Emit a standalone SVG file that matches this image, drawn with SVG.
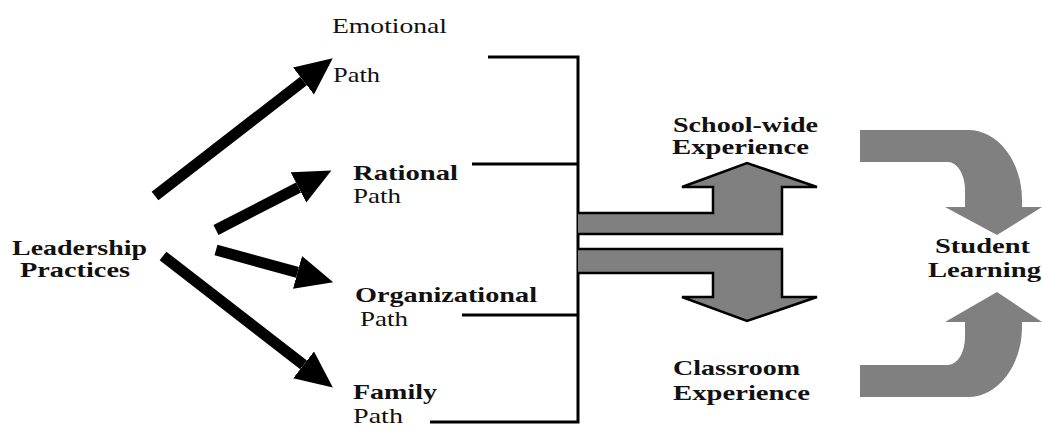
<svg xmlns="http://www.w3.org/2000/svg" width="1042" height="435" viewBox="0 0 1042 435">
<style>
  .t { font-family: "Liberation Serif", "Times New Roman", serif; font-size: 21px; fill: #111; }
  .b { font-weight: bold; }
  .arrow { stroke: #000; stroke-width: 11; fill: none; stroke-linecap: butt; marker-end: url(#head); }
  .line { stroke: #000; stroke-width: 3; fill: none; }
  .gray { fill: #808080; stroke: #000; stroke-width: 2.5; stroke-linejoin: miter; }
  .curve { fill: #808080; stroke: none; }
</style>
<defs>
  <marker id="head" markerUnits="userSpaceOnUse" markerWidth="38" markerHeight="36" refX="0" refY="17" orient="auto">
    <path d="M0,0 L37,17 L0,34 Z" fill="#000"/>
  </marker>
</defs>
<rect width="1042" height="435" fill="#fff"/>

<g id="connectors">
  <line class="arrow" x1="155" y1="196" x2="303.5" y2="81"/>
  <line class="arrow" x1="216" y1="230" x2="298.5" y2="187.5"/>
  <line class="arrow" x1="216" y1="250" x2="297.5" y2="272.4"/>
  <line class="arrow" x1="163" y1="256" x2="303.6" y2="364.9"/>
  <path class="line" d="M488,57 H578 V422 H430"/>
  <path class="line" d="M472,164 H578"/>
  <path class="line" d="M462,315 H578"/>
  <path class="gray" d="M578,213 H713 V187 H682 L747,163 L817,187 H782 V234 H578"/>
  <path class="gray" d="M578,249 H782 V297 H817 L747,321 L682,297 H713 V273 H578"/>
  <path class="curve" d="M860,130 H968 A54,70 0 0 1 1022,200 V207 H1042 L997,235 L945,207 H965 V190 A17,28 0 0 0 948,162 H860 Z"/>
  <path class="curve" d="M860,397 H968 A54,70 0 0 0 1022,327 V322 H1042 L997,292 L945,322 H965 V337 A17,28 0 0 1 948,365 H860 Z"/>
</g>

<g id="leadership">
  <text class="t b" x="12" y="255" textLength="135" lengthAdjust="spacingAndGlyphs">Leadership</text>
  <text class="t b" x="20" y="277" textLength="110" lengthAdjust="spacingAndGlyphs">Practices</text>
</g>
<g id="emotional">
  <text class="t" x="332" y="33" textLength="115" lengthAdjust="spacingAndGlyphs">Emotional</text>
  <text class="t" x="333" y="82" textLength="47" lengthAdjust="spacingAndGlyphs">Path</text>
</g>
<g id="rational">
  <text class="t b" x="353" y="180" textLength="105" lengthAdjust="spacingAndGlyphs">Rational</text>
  <text class="t" x="353" y="203" textLength="48" lengthAdjust="spacingAndGlyphs">Path</text>
</g>
<g id="organizational">
  <text class="t b" x="355" y="302" textLength="182" lengthAdjust="spacingAndGlyphs">Organizational</text>
  <text class="t" x="360" y="326" textLength="48" lengthAdjust="spacingAndGlyphs">Path</text>
</g>
<g id="family">
  <text class="t b" x="353" y="399" textLength="84" lengthAdjust="spacingAndGlyphs">Family</text>
  <text class="t" x="353" y="423" textLength="50" lengthAdjust="spacingAndGlyphs">Path</text>
</g>
<g id="schoolwide">
  <text class="t b" x="673" y="132" textLength="145" lengthAdjust="spacingAndGlyphs">School-wide</text>
  <text class="t b" x="672" y="154" textLength="137" lengthAdjust="spacingAndGlyphs">Experience</text>
</g>
<g id="classroom">
  <text class="t b" x="673" y="375" textLength="127" lengthAdjust="spacingAndGlyphs">Classroom</text>
  <text class="t b" x="673" y="400" textLength="137" lengthAdjust="spacingAndGlyphs">Experience</text>
</g>
<g id="student">
  <text class="t b" x="935" y="253" textLength="95" lengthAdjust="spacingAndGlyphs">Student</text>
  <text class="t b" x="928" y="277" textLength="113" lengthAdjust="spacingAndGlyphs">Learning</text>
</g>
</svg>
